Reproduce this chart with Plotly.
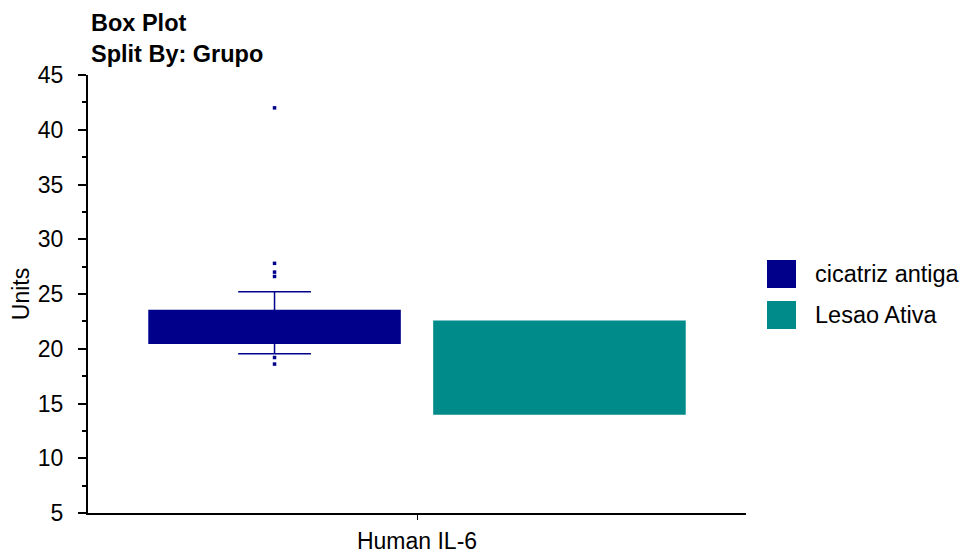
import plotly.graph_objects as go

# ---------------- data ----------------
category = "Human IL-6"
groups = ["cicatriz antiga", "Lesao Ativa"]
colors = ["#00008B", "#008B8B"]
q1 = [20.5, 14.05]
median = [22.5, 18.27]
q3 = [23.5, 22.5]
lowerfence = [19.55, 14.05]
upperfence = [25.2, 22.5]
outliers_g1 = [42.0, 27.8, 27.0, 26.6, 19.2, 18.6]
y_ticks = [5, 10, 15, 20, 25, 30, 35, 40, 45]

# ---------------- layout constants ----------------
# the page body has an 8px margin; work in screen pixels
OFF = 8
W, H = 972 - 2 * OFF, 558 - OFF
PLOT_X0, PLOT_X1 = 88, 746      # screen px
PLOT_Y0, PLOT_Y1 = 75, 513      # screen px
ML, MT = PLOT_X0 - OFF, PLOT_Y0 - OFF
PW, PH = PLOT_X1 - PLOT_X0, PLOT_Y1 - PLOT_Y0
MR, MB = W - ML - PW, H - MT - PH
offsets = [-0.2165, 0.2165]
box_width = 0.3815
FONT = "Liberation Sans, Arial, sans-serif"


def px_to_paper_x(px):
    return (px - PLOT_X0) / PW


def px_to_paper_y(py):
    return (PLOT_Y1 - py) / PH


fig = go.Figure()
for i, g in enumerate(groups):
    fig.add_trace(go.Box(
        x=[offsets[i]], q1=[q1[i]], median=[median[i]], q3=[q3[i]],
        lowerfence=[lowerfence[i]], upperfence=[upperfence[i]],
        width=box_width, name=g, fillcolor=colors[i],
        line=dict(color=colors[i], width=1.5), whiskerwidth=0.29,
        boxpoints=False, showlegend=False, hoverinfo="skip",
    ))

fig.add_trace(go.Scatter(
    x=[offsets[0]] * len(outliers_g1), y=outliers_g1, mode="markers",
    marker=dict(symbol="square", size=3.5, color=colors[0], line=dict(width=0)),
    showlegend=False, hoverinfo="skip",
))

# manual legend (large swatches)
shapes = []
annotations = []
sw_x0, sw_x1 = 767, 796
sw_tops = [260, 301]
sw_h = 28
for i, g in enumerate(groups):
    top = sw_tops[i]
    shapes.append(dict(type="rect", xref="paper", yref="paper",
                       x0=px_to_paper_x(sw_x0), x1=px_to_paper_x(sw_x1),
                       y0=px_to_paper_y(top + sw_h), y1=px_to_paper_y(top),
                       fillcolor=colors[i], line=dict(width=0)))
    annotations.append(dict(text=g, xref="paper", yref="paper",
                            x=px_to_paper_x(813), y=px_to_paper_y(top + sw_h / 2),
                            xanchor="left", yanchor="middle", showarrow=False,
                            font=dict(family=FONT, size=23.5, color="black")))

# title (two lines)
annotations.append(dict(text="<b>Box Plot</b><br><b>Split By: Grupo</b>",
                        xref="paper", yref="paper", align="left",
                        x=px_to_paper_x(89), y=px_to_paper_y(OFF),
                        xanchor="left", yanchor="top", showarrow=False,
                        font=dict(family=FONT, size=23.5, color="black")))

fig.update_layout(
    width=W, height=H,
    margin=dict(l=ML, r=MR, t=MT, b=MB, pad=0, autoexpand=False),
    paper_bgcolor="white", plot_bgcolor="white",
    font=dict(family=FONT, size=23, color="black"),
    shapes=shapes, annotations=annotations,
    showlegend=False,
    xaxis=dict(range=[-0.5, 0.5], tickvals=[0], ticktext=[category],
               automargin=False,
               showgrid=False, zeroline=False, showline=True,
               linecolor="black", linewidth=2, ticks="outside", ticklen=5,
               tickwidth=1, tickcolor="black", tickfont=dict(size=23),
               ticklabelstandoff=1),
    yaxis=dict(range=[5, 45], tickvals=y_ticks, showgrid=False, zeroline=False,
               automargin=False,
               showline=True, linecolor="black", linewidth=2,
               ticks="outside", ticklen=8, tickwidth=1.5, tickcolor="black",
               tickfont=dict(size=23), ticklabelstandoff=10,
               minor=dict(dtick=2.5, ticks="outside", ticklen=4,
                          tickwidth=1.5, tickcolor="black", showgrid=False),
               title=dict(text="Units", font=dict(size=23), standoff=6)),
)

fig.write_html("out.html")
